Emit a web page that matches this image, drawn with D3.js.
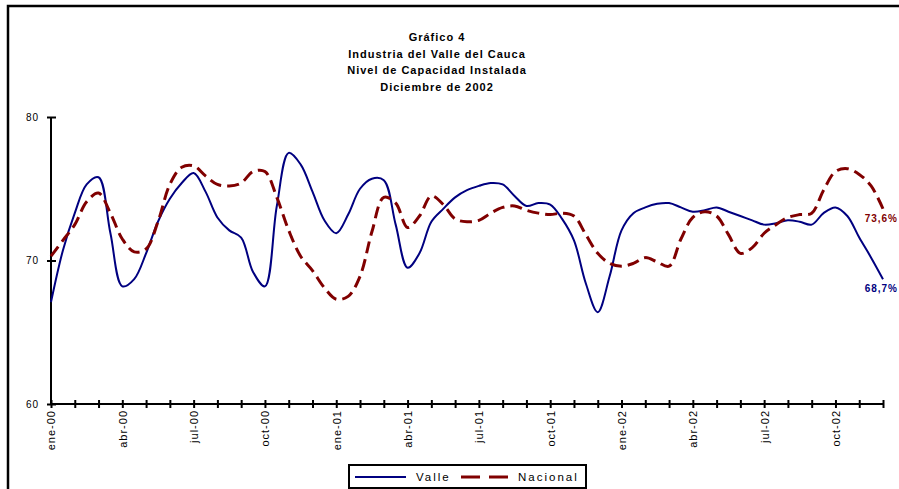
<!DOCTYPE html>
<html>
<head>
<meta charset="utf-8">
<script src="https://cdn.jsdelivr.net/npm/d3@7/dist/d3.min.js"></script>
<style>
  html, body { margin: 0; padding: 0; background: #fff; }
  svg { display: block; }
  text { font-family: Arial, "Liberation Sans", sans-serif; }
</style>
</head>
<body>
<svg id="chart" width="899" height="489"></svg>
<script>
// ---- Data ----
const titleLines = ["Gráfico 4", "Industria del Valle del Cauca", "Nivel de Capacidad Instalada", "Diciembre de 2002"];
const months = ["ene-00","feb-00","mar-00","abr-00","may-00","jun-00","jul-00","ago-00","sep-00","oct-00","nov-00","dic-00",
                "ene-01","feb-01","mar-01","abr-01","may-01","jun-01","jul-01","ago-01","sep-01","oct-01","nov-01","dic-01",
                "ene-02","feb-02","mar-02","abr-02","may-02","jun-02","jul-02","ago-02","sep-02","oct-02","nov-02","dic-02"];
const labelEvery = 3;
const yTicks = [60, 70, 80];
// series sampled twice per month (ene-00 ... dic-02)
const valle = [67.1,70.7,73.3,75.3,75.8,71.9,68.2,68.7,70.5,72.7,74.3,75.4,76.1,74.8,73.0,72.1,71.6,69.2,68.2,73.8,
               77.5,76.7,74.8,72.8,71.9,73.2,75.0,75.7,75.6,72.5,69.5,70.5,72.7,73.6,74.4,74.9,75.2,75.4,75.3,74.5,
               73.8,74.0,73.9,72.9,71.4,68.4,66.4,68.9,72.1,73.3,73.7,73.95,74.0,73.7,73.4,73.5,73.7,73.4,73.1,72.8,
               72.5,72.6,72.8,72.7,72.5,73.3,73.7,73.1,71.6,70.2,68.7];
const nacional = [70.3,71.4,72.5,74.1,74.7,73.3,71.5,70.6,70.8,72.7,75.3,76.5,76.6,75.9,75.3,75.2,75.4,76.2,76.2,74.4,
                  72.1,70.3,69.3,68.1,67.3,67.5,68.9,72.0,74.4,74.0,72.3,73.1,74.5,73.9,72.9,72.7,72.8,73.3,73.7,73.8,
                  73.5,73.3,73.2,73.3,73.1,71.8,70.5,69.8,69.6,69.8,70.2,69.9,69.6,71.5,73.0,73.4,73.1,71.8,70.5,70.9,
                  71.9,72.5,73.0,73.2,73.3,74.9,76.2,76.4,76.0,75.2,73.6];
const seriesNames = ["Valle", "Nacional"];
const endLabels = ["68,7%", "73,6%"];

// ---- Chart ----
const svg = d3.select("#chart");
const blue = "#000080", red = "#800000";

// outer frame
svg.append("rect").attr("x", 8).attr("y", 6).attr("width", 1000).attr("height", 1000)
  .attr("fill", "none").attr("stroke", "#000").attr("stroke-width", 2.5);

const x = d3.scaleLinear().domain([0, months.length - 1]).range([51, 883]);
const y = d3.scaleLinear().domain([60, 80]).range([404, 117]);

// title
const title = svg.append("g");
titleLines.forEach((t, i) => {
  title.append("text").attr("x", 437).attr("y", 41 + i * 16.5)
    .attr("text-anchor", "middle").attr("font-size", 11).attr("font-weight", "bold")
    .attr("letter-spacing", 1).text(t);
});

// y axis
const yAxis = svg.append("g").attr("transform", `translate(${x(0)},0)`)
  .call(d3.axisLeft(y).tickValues(yTicks).tickSize(4).tickPadding(8).tickFormat(d3.format("d")));
yAxis.select(".domain").attr("stroke", "#000").attr("stroke-width", 2).attr("d", `M0,${y(60)}V${y(80)}`);
yAxis.selectAll(".tick line").attr("x1", -4).attr("x2", 5).attr("stroke", "#000").attr("stroke-width", 2);
yAxis.selectAll(".tick text").attr("font-size", 10).attr("letter-spacing", 1).attr("fill", "#000")
  .attr("font-family", "Arial, 'Liberation Sans', sans-serif");

// x axis
const xAxis = svg.append("g").attr("transform", `translate(0,${y(60)})`)
  .call(d3.axisBottom(x).tickValues(d3.range(months.length)).tickSize(4)
    .tickFormat(i => (i % labelEvery === 0 ? months[i] : "")));
xAxis.select(".domain").attr("stroke", "#000").attr("stroke-width", 2).attr("d", `M${x(0)},0H${x(months.length - 1)}`);
xAxis.selectAll(".tick line").attr("y1", -4).attr("y2", 4).attr("stroke", "#000").attr("stroke-width", 2);
xAxis.selectAll(".tick text")
  .attr("font-size", 11).attr("letter-spacing", 1).attr("fill", "#000")
  .attr("font-family", "Arial, 'Liberation Sans', sans-serif")
  .attr("text-anchor", "end").attr("dy", "0.35em")
  .attr("transform", "translate(0,4) rotate(-90)")
  .attr("x", -2).attr("y", 0);

// lines
const line = d3.line().x((d, i) => x(i / 2)).y(d => y(d)).curve(d3.curveCatmullRom.alpha(0.5));
svg.append("path").datum(valle).attr("d", line)
  .attr("fill", "none").attr("stroke", blue).attr("stroke-width", 2);
svg.append("path").datum(nacional).attr("d", line)
  .attr("fill", "none").attr("stroke", red).attr("stroke-width", 3).attr("stroke-dasharray", "12,6");

// end labels
svg.append("text").attr("x", 898).attr("y", y(valle[valle.length - 1]) + 13)
  .attr("text-anchor", "end").attr("font-size", 10).attr("font-weight", "bold")
  .attr("letter-spacing", 1).attr("fill", blue).text(endLabels[0]);
svg.append("text").attr("x", 898).attr("y", y(nacional[nacional.length - 1]) + 13)
  .attr("text-anchor", "end").attr("font-size", 10).attr("font-weight", "bold")
  .attr("letter-spacing", 1).attr("fill", red).text(endLabels[1]);

// legend
const lg = svg.append("g");
lg.append("rect").attr("x", 349).attr("y", 465).attr("width", 237).attr("height", 23)
  .attr("fill", "#fff").attr("stroke", "#000").attr("stroke-width", 2);
lg.append("line").attr("x1", 355).attr("x2", 406).attr("y1", 477).attr("y2", 477)
  .attr("stroke", blue).attr("stroke-width", 2);
lg.append("text").attr("x", 416).attr("y", 481).attr("font-size", 11.5).attr("letter-spacing", 2).text(seriesNames[0]);
lg.append("line").attr("x1", 461).attr("x2", 508).attr("y1", 477).attr("y2", 477)
  .attr("stroke", red).attr("stroke-width", 3).attr("stroke-dasharray", "19,9");
lg.append("text").attr("x", 518).attr("y", 481).attr("font-size", 11.5).attr("letter-spacing", 2).text(seriesNames[1]);
</script>
</body>
</html>
